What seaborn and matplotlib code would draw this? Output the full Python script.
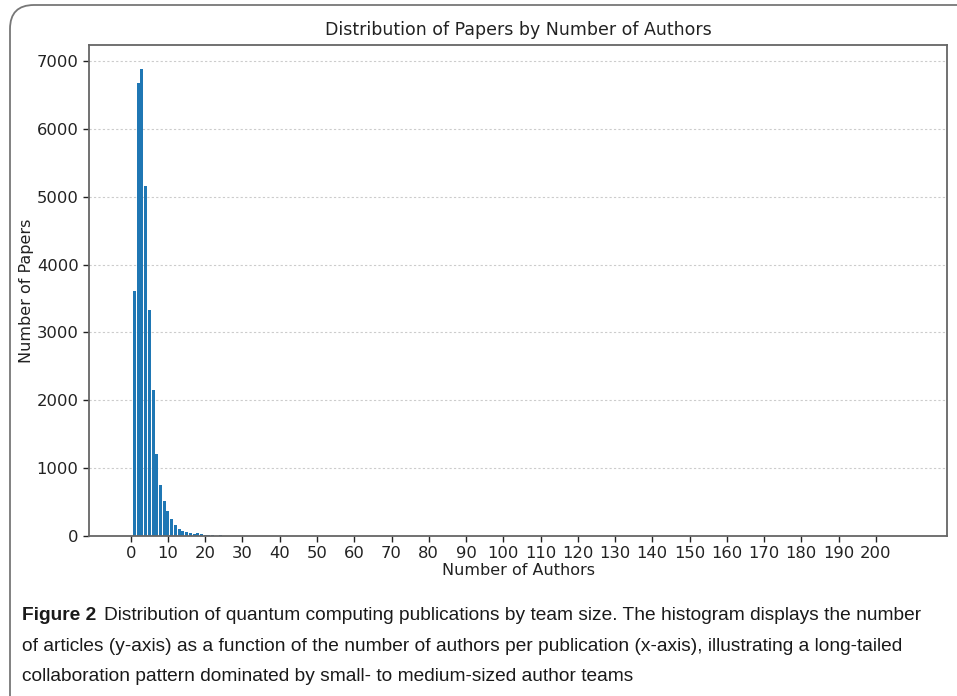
import matplotlib
matplotlib.use("Agg")
import matplotlib.pyplot as plt
import seaborn as sns
import pandas as pd
from matplotlib.patches import FancyBboxPatch

# ---- data ----
num_authors = [0, 1, 2, 3, 4, 5, 6, 7, 8, 9, 10, 11, 12, 13, 14, 15, 16, 17, 18, 19,
               20, 21, 22, 23, 24, 25, 26, 27, 28, 30, 32, 35, 40, 45, 52, 60, 75, 90, 120, 160, 208]
num_papers = [2, 3615, 6680, 6885, 5165, 3325, 2145, 1215, 755, 510, 362, 250, 157, 103, 79, 59, 40, 29, 49, 25,
              15, 10, 8, 6, 12, 5, 4, 3, 3, 2, 2, 2, 1, 1, 1, 1, 1, 1, 1, 1, 1]
x_ticks = list(range(0, 201, 10))
y_ticks = [0, 1000, 2000, 3000, 4000, 5000, 6000, 7000]

title = "Distribution of Papers by Number of Authors"
xlabel = "Number of Authors"
ylabel = "Number of Papers"
cap_bold = "Figure 2"
cap_lines = [
    "Distribution of quantum computing publications by team size. The histogram displays the number",
    "of articles (y-axis) as a function of the number of authors per publication (x-axis), illustrating a long-tailed",
    "collaboration pattern dominated by small- to medium-sized author teams",
]

df = pd.DataFrame({"authors": num_authors, "papers": num_papers})

sns.set_theme(style="white")
plt.rcParams['font.family'] = ['DejaVu Sans']

W, H = 957, 696
fig = plt.figure(figsize=(W / 100, H / 100), dpi=100)
ax = fig.add_axes([89 / W, 1 - 536 / H, (947 - 89) / W, (536 - 45) / H])

sns.histplot(data=df, x="authors", weights="papers", discrete=True, shrink=0.8,
             color="#1f77b4", alpha=1, edgecolor="none", linewidth=0, ax=ax)

ax.set_xlim(-11.2, 219.1)
ax.set_ylim(0, 7236)
ax.set_xticks(x_ticks)
ax.set_yticks(y_ticks)
ax.tick_params(axis="both", labelsize=11.8, colors="#222222", length=4, width=1, direction="out",
               bottom=True, left=True, pad=3.5)
ax.grid(axis="y", linestyle=(0, (2, 2)), color="#cccccc", linewidth=0.8)
ax.set_axisbelow(True)
for s in ax.spines.values():
    s.set_color("#666666")
    s.set_linewidth(1.3)
ax.set_title(title, fontsize=12.5, color="#222222", pad=7)
ax.set_xlabel(xlabel, fontsize=11.5, color="#222222", labelpad=1)
ax.set_ylabel(ylabel, fontsize=11.5, color="#222222", labelpad=2)

# rounded page frame
frame = FancyBboxPatch((10 / W, 1 - 740 / H), 1.2, 735 / H,
                       boxstyle="round,pad=0,rounding_size=0.025",
                       transform=fig.transFigure, facecolor="none",
                       edgecolor="#777777", linewidth=1.3, clip_on=True,
                       mutation_aspect=W / H)
fig.patches.append(frame)

# caption
cap_font = ['Liberation Sans', 'DejaVu Sans']
fs = 13.8
y0 = 1 - 620 / H
t_bold = fig.text(22 / W, y0, cap_bold, fontsize=fs, fontweight="bold", family=cap_font,
                  color="#1a1a1a", va="baseline")
fig.canvas.draw()
r = fig.canvas.get_renderer()
bb = t_bold.get_window_extent(r)
fig.text((bb.x1 + 8) / W, y0, cap_lines[0], fontsize=fs, family=cap_font, color="#1a1a1a", va="baseline")
fig.text(22 / W, 1 - 651 / H, cap_lines[1], fontsize=fs, family=cap_font, color="#1a1a1a", va="baseline")
fig.text(22 / W, 1 - 681 / H, cap_lines[2], fontsize=fs, family=cap_font, color="#1a1a1a", va="baseline")

fig.savefig("out.png", dpi=100, facecolor="white")
